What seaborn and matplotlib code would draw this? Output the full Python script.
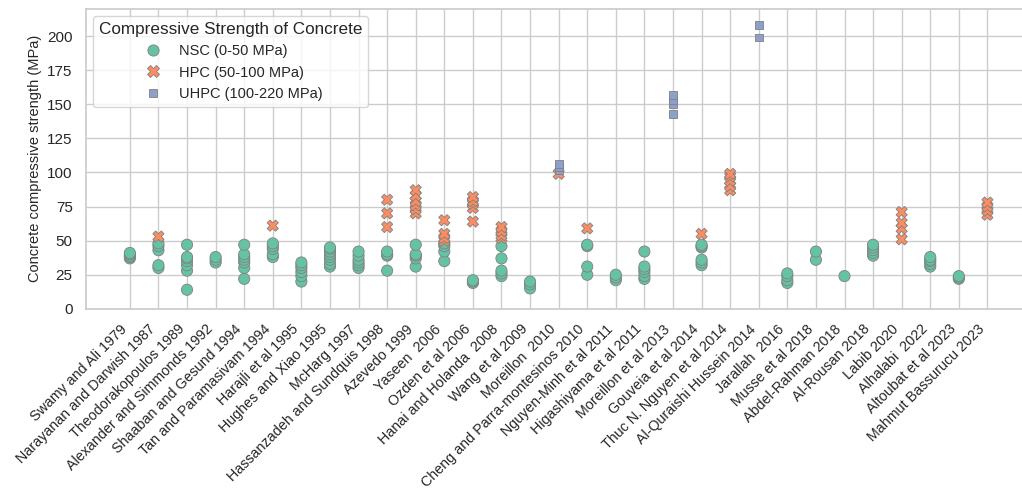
import matplotlib
matplotlib.use("Agg")
import matplotlib.pyplot as plt
import seaborn as sns
import pandas as pd

# Studies (x-axis categories), in publication order
studies = [
    "Swamy and Ali 1979", "Narayanan and Darwish 1987", "Theodorakopoulos 1989",
    "Alexander and Simmonds 1992", "Shaaban and Gesund 1994", "Tan and Paramasivam 1994",
    "Harajli et al 1995", "Hughes and Xiao 1995", "McHarg 1997",
    "Hassanzadeh and Sundquis 1998", "Azevedo 1999", "Yaseen  2006", "Ozden et al 2006",
    "Hanai and Holanda  2008", "Wang et al 2009", "Moreillon  2010",
    "Cheng and Parra-montesinos 2010", "Nguyen-Minh et al 2011", "Higashiyama et al 2011",
    "Moreillon et al 2013", "Gouveia et al 2014", "Thuc N. Nguyen et al 2014",
    "Al-Quraishi Hussein 2014", "Jarallah  2016", "Musse et al 2018",
    "Abdel-Rahman 2018", "Al-Rousan 2018", "Labib 2020", "Alhalabi  2022",
    "Altoubat et al 2023", "Mahmut Bassurucu 2023",
]

# Compressive strength (MPa) of the tested specimens, by concrete class
nsc = [
    [37, 38, 39, 40, 41],
    [30, 32, 43, 46, 48],
    [14, 28, 32, 35, 37, 38, 47],
    [34, 36, 38],
    [22, 30, 34, 36, 38, 40, 47],
    [38, 40, 44, 46, 48],
    [20, 24, 27, 30, 32, 34],
    [31, 33, 36, 38, 40, 42, 44, 45],
    [30, 32, 34, 36, 39, 42],
    [28, 39, 40, 42],
    [31, 37, 39, 40, 47],
    [35, 42, 46, 48],
    [19, 20, 21],
    [24, 26, 28, 37, 46],
    [15, 18, 20],
    [],
    [25, 31, 46, 47],
    [21, 23, 25],
    [22, 24, 27, 29, 31, 42],
    [],
    [32, 34, 36, 45, 46, 47],
    [],
    [],
    [19, 21, 24, 26],
    [36, 42],
    [24],
    [39, 41, 43, 45, 47],
    [],
    [31, 33, 35, 36, 38],
    [22, 23, 24],
    [],
]
hpc = [
    [], [53], [], [], [], [61], [], [], [],
    [60, 70, 80],
    [70, 73, 76, 79, 83, 87],
    [50, 52, 55, 65],
    [64, 74, 77, 79, 82],
    [52, 54, 57, 60],
    [],
    [99],
    [59],
    [], [], [],
    [55],
    [87, 90, 94, 97, 99],
    [], [], [], [], [],
    [51, 59, 63, 71],
    [], [],
    [69, 72, 75, 78],
]
uhpc = [
    [], [], [], [], [], [], [], [], [], [], [], [], [], [], [],
    [102, 104, 106],
    [], [], [],
    [143, 150, 153, 157],
    [], [],
    [199, 208],
    [], [], [], [], [], [], [], [],
]

classes = ["NSC (0-50 MPa)", "HPC (50-100 MPa)", "UHPC (100-220 MPa)"]

rows = []
for i, study in enumerate(studies):
    for cls, vals in zip(classes, (nsc[i], hpc[i], uhpc[i])):
        for v in vals:
            rows.append({"Study": study, "Strength": v, "Class": cls})
df = pd.DataFrame(rows)

sns.set_theme(style="whitegrid")
plt.rcParams["font.family"] = ["Liberation Sans", "DejaVu Sans"]

fig = plt.figure(figsize=(10.22, 4.91), dpi=100)
ax = fig.add_axes([0.084, 0.371, 0.93, 0.611])

sns.scatterplot(
    data=df, x="Study", y="Strength", hue="Class", style="Class",
    hue_order=classes, style_order=classes, palette="Set2",
    s=65, edgecolor="gray", linewidth=0.6, ax=ax,
)

ax.set_ylim(0, 220)
ax.set_xlim(-1.54, len(studies) - 1 + 1.71)
ax.set_xlabel("")
ax.set_ylabel("Concrete compressive strength (MPa)", fontsize=10.5)
ax.tick_params(axis="y", labelsize=11)
ax.tick_params(axis="x", labelsize=10.3)
plt.setp(ax.get_xticklabels(), rotation=45, ha="right")

leg = ax.legend(title="Compressive Strength of Concrete", loc="upper left",
                fontsize=10.5, title_fontsize=12.3)

fig.savefig("out.png", dpi=100)
